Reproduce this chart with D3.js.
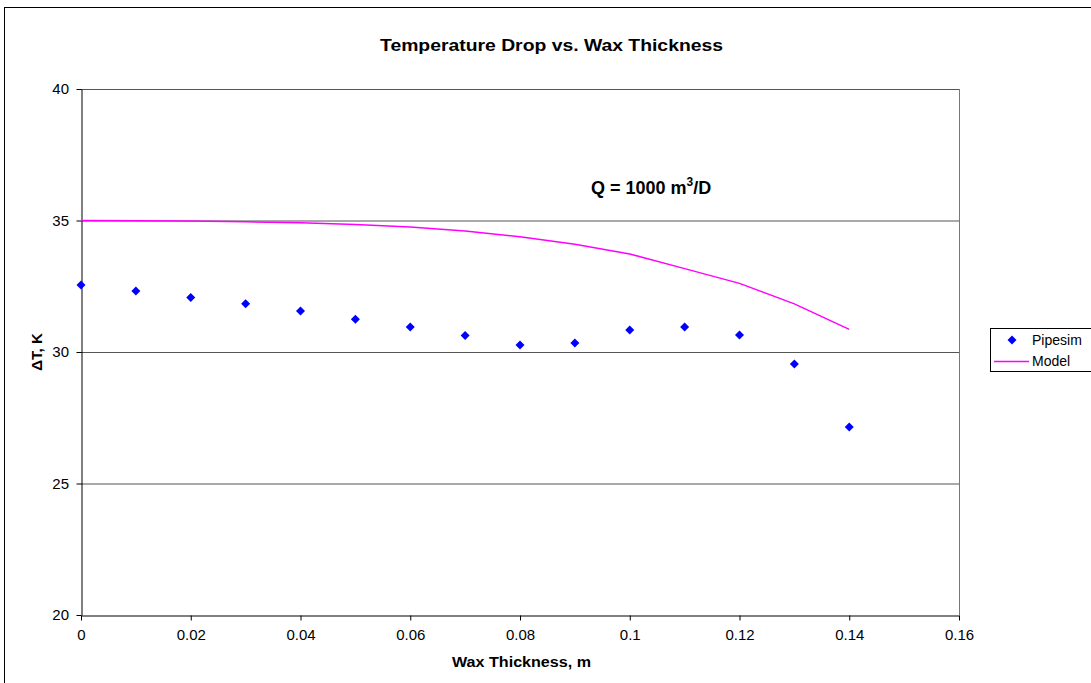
<!DOCTYPE html>
<html><head><meta charset="utf-8">
<script src="https://cdn.jsdelivr.net/npm/d3@7"></script>
<style>body{margin:0;background:#fff}svg{display:block;font-family:"Liberation Sans",Arial,sans-serif}</style>
</head><body>
<svg id="c" width="1091" height="683"></svg>
<script>
const thickness = [0,0.01,0.02,0.03,0.04,0.05,0.06,0.07,0.08,0.09,0.10,0.11,0.12,0.13,0.14];
const pipesim = [32.55,32.32,32.07,31.83,31.56,31.25,30.95,30.63,30.27,30.34,30.84,30.95,30.65,29.54,27.15];
const model = [35.0,34.995,34.98,34.95,34.91,34.85,34.75,34.6,34.38,34.1,33.73,33.17,32.61,31.83,30.86];
const xTicks = [0,0.02,0.04,0.06,0.08,0.1,0.12,0.14,0.16];
const yTicks = [20,25,30,35,40];

const svg = d3.select("#c");
const L=81,R=959,T=89,B=615;
const x = d3.scaleLinear().domain([0,0.16]).range([L,R]);
const y = d3.scaleLinear().domain([20,40]).range([B,T]);

// outer chart border
svg.append("rect").attr("x",4.5).attr("y",7.5).attr("width",1100).attr("height",700)
  .attr("fill","none").attr("stroke","#000").attr("stroke-width",1);

// gridlines
svg.append("g").selectAll("line").data(yTicks.filter(d=>d>20)).join("line")
  .attr("x1",L).attr("x2",R).attr("y1",d=>y(d)+0.5).attr("y2",d=>y(d)+0.5)
  .attr("stroke","#555").attr("stroke-width",1);
// right plot border
svg.append("line").attr("x1",R+0.5).attr("x2",R+0.5).attr("y1",T).attr("y2",B).attr("stroke","#777");

// axes
const xa = svg.append("g").attr("transform",`translate(0,${B+0.5})`)
  .call(d3.axisBottom(x).tickValues(xTicks).tickFormat(d=>d3.format("")(+d.toFixed(2))).tickSize(5).tickSizeOuter(0));
const ya = svg.append("g").attr("transform",`translate(${L+0.5},0)`)
  .call(d3.axisLeft(y).tickValues(yTicks).tickSize(5).tickSizeOuter(0));
[xa,ya].forEach(g=>{g.select(".domain").attr("stroke","#000");g.selectAll(".tick line").attr("stroke","#000");
  g.selectAll("text").attr("font-size",15).attr("fill","#000").attr("font-family","'Liberation Sans',Arial,sans-serif");});
xa.selectAll("text").attr("dy","1.1em");
ya.selectAll("text").attr("dx","-0.3em");

// model line
svg.append("path").datum(thickness.map((t,i)=>[t,model[i]]))
  .attr("fill","none").attr("stroke","#ff00ff").attr("stroke-width",1.5)
  .attr("d",d3.line().x(d=>x(d[0])).y(d=>y(d[1])));

// pipesim markers
const dia = "M0,-4.5L4.5,0L0,4.5L-4.5,0Z";
svg.append("g").selectAll("path").data(thickness.map((t,i)=>[t,pipesim[i]])).join("path")
  .attr("d",dia).attr("fill","#0000ff")
  .attr("transform",d=>`translate(${x(d[0])},${y(d[1])})`);

// titles
svg.append("text").attr("x",380).attr("y",51).attr("textLength",343).attr("lengthAdjust","spacingAndGlyphs")
  .attr("font-size",16).attr("font-weight","bold").text("Temperature Drop vs. Wax Thickness");
svg.append("text").attr("x",452).attr("y",667).attr("textLength",139).attr("lengthAdjust","spacingAndGlyphs")
  .attr("font-size",14).attr("font-weight","bold").text("Wax Thickness, m");
svg.append("text").attr("transform","translate(42,352) rotate(-90)").attr("text-anchor","middle")
  .attr("font-size",15).attr("font-weight","bold").text("ΔT, K");
const q = svg.append("text").attr("x",591).attr("y",194).attr("font-size",18).attr("font-weight","bold");
q.append("tspan").text("Q = 1000 m");
q.append("tspan").attr("font-size",12).attr("dy",-8).text("3");
q.append("tspan").attr("dy",8).text("/D");

// legend
const lg = svg.append("g");
lg.append("rect").attr("x",990.5).attr("y",328.5).attr("width",110).attr("height",43)
  .attr("fill","#fff").attr("stroke","#000");
lg.append("path").attr("d",dia).attr("fill","#0000ff").attr("transform","translate(1012,340)");
lg.append("line").attr("x1",994).attr("x2",1029).attr("y1",361.5).attr("y2",361.5).attr("stroke","#ff00ff").attr("stroke-width",1.5);
lg.append("text").attr("x",1032).attr("y",345).attr("font-size",14).text("Pipesim");
lg.append("text").attr("x",1032).attr("y",366).attr("font-size",14).text("Model");
</script>
</body></html>
